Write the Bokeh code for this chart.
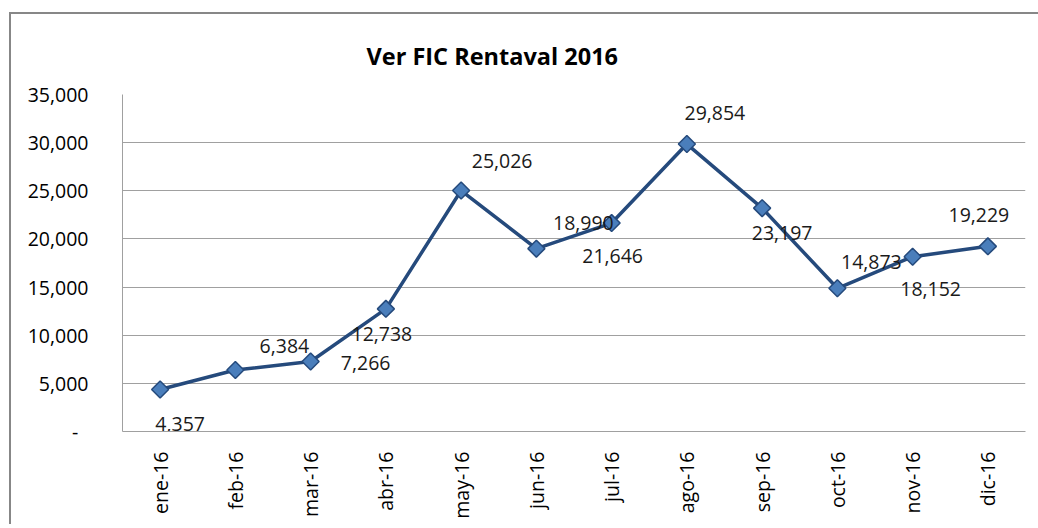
import numpy as np
from bokeh.plotting import figure
from bokeh.models import FactorRange, Range1d, NumeralTickFormatter, ColumnDataSource
from bokeh.core.properties import value
from bokeh.embed import file_html
from bokeh.resources import INLINE

months = ["ene-16", "feb-16", "mar-16", "abr-16", "may-16", "jun-16",
          "jul-16", "ago-16", "sep-16", "oct-16", "nov-16", "dic-16"]
values = [4357, 6384, 7266, 12738, 25026, 18990, 21646, 29854, 23197, 14873, 18152, 19229]
labels = ["4,357", "6,384", "7,266", "12,738", "25,026", "18,990",
          "21,646", "29,854", "23,197", "14,873", "18,152", "19,229"]
# label placement offsets (screen px), as placed in the original
lab_dx = [20, 49, 55, -4, 41, 47, 1, 28, 20, 34, 18, -9]
lab_dy = [34, -24, 1, 25, -30, -26, 33, -31, 25, -26, 32, -31]
title_text = "Ver FIC Rentaval 2016"

FONT = "Open Sans"

p = figure(x_range=FactorRange(*months, range_padding=0), y_range=Range1d(0, 35000),
           width=1029, height=512, output_backend="svg", toolbar_location=None,
           min_border_left=113, min_border_right=13, min_border_top=82, min_border_bottom=93)
p.margin = (12, 0, 0, 9)
p.styles = {"box-shadow": "inset 2px 2px 0 0 #878787", "background": "white"}

p.outline_line_color = None
p.background_fill_color = "white"
p.border_fill_color = None

p.title.text = title_text
p.title.text_font = FONT
p.title.text_font_style = "bold"
p.title.text_font_size = "23.5px"
p.title.text_color = "black"
p.title.align = "left"
p.title.offset = 244
p.title.standoff = 46

p.xgrid.grid_line_color = None
p.ygrid.grid_line_color = "#a0a0a0"
p.ygrid.grid_line_width = 1

for ax in (p.xaxis[0], p.yaxis[0]):
    ax.axis_line_color = "#a0a0a0"
    ax.axis_line_width = 1
    ax.major_tick_line_color = None
    ax.minor_tick_line_color = None
    ax.major_label_text_font = FONT
    ax.major_label_text_font_size = "19.5px"
    ax.major_label_text_color = "black"

p.yaxis[0].ticker = list(range(0, 35001, 5000))
p.yaxis[0].formatter = NumeralTickFormatter(format="0,0")
p.yaxis[0].major_label_overrides = {0: "-\u00a0\u00a0"}
p.yaxis[0].major_label_standoff = 28
p.xaxis[0].major_label_orientation = np.pi / 2
p.xaxis[0].major_label_standoff = 14

src = ColumnDataSource(dict(x=months, y=values, t=labels, dx=lab_dx, dy=lab_dy))
p.line("x", "y", source=src, line_color="#254a7c", line_width=3.5)
p.scatter("x", "y", source=src, marker="square", angle=np.pi / 4, size=12,
          fill_color="#4a7ebb", line_color="#254a7c", line_width=1.5)
p.text("x", "y", text="t", source=src, x_offset="dx", y_offset="dy",
       text_align="center", text_baseline="middle", text_font=value(FONT),
       text_font_size="19.5px", text_color="#1a1a1a")

open("out.html", "w").write(file_html(p, INLINE))
